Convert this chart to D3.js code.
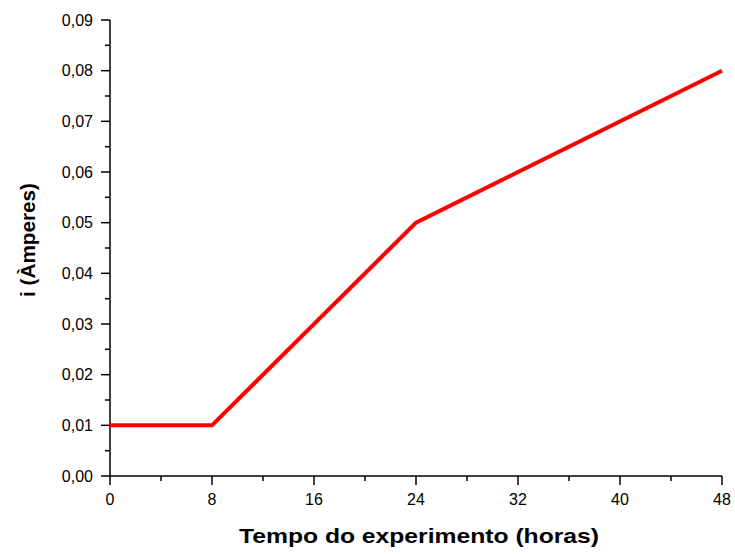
<!DOCTYPE html>
<html><head><meta charset="utf-8">
<script src="https://cdn.jsdelivr.net/npm/d3@7"></script>
<style>body{margin:0;background:#fff}svg{display:block}text{font-family:"Liberation Sans",Arial,sans-serif}</style>
</head><body><svg id="c" width="735" height="554"></svg>
<script>
const hours = [0, 8, 24, 48];
const current = [0.01, 0.01, 0.05, 0.08];
const xTicks = [0, 8, 16, 24, 32, 40, 48];
const yTicks = [0, 0.01, 0.02, 0.03, 0.04, 0.05, 0.06, 0.07, 0.08, 0.09];
const xTitle = "Tempo do experimento (horas)";
const yTitle = "i (Àmperes)";

const svg = d3.select("#c");
const x = d3.scaleLinear().domain([0, 48]).range([110, 722]);
const y = d3.scaleLinear().domain([0, 0.09]).range([476, 20]);
const fmt = d => d.toFixed(2).replace(".", ",");

const xMinor = d3.range(4, 48, 8);
const yMinor = d3.range(0.005, 0.09, 0.01);

// x axis
const gx = svg.append("g").attr("transform", "translate(0,476)");
gx.append("line").attr("x1", x(0)).attr("x2", x(48)).attr("stroke", "#000").attr("stroke-width", 1.5);
gx.selectAll(".mj").data(xTicks).join("line").attr("x1", d => x(d)).attr("x2", d => x(d)).attr("y1", 0).attr("y2", 9).attr("stroke", "#000").attr("stroke-width", 1.5);
gx.selectAll(".mn").data(xMinor).join("line").attr("class","mn").attr("x1", d => x(d)).attr("x2", d => x(d)).attr("y1", 0).attr("y2", 5).attr("stroke", "#000").attr("stroke-width", 1.5);
gx.selectAll("text").data(xTicks).join("text").attr("x", d => x(d)).attr("y", 29).attr("text-anchor", "middle").attr("font-size", 16).text(d => d);

// y axis
const gy = svg.append("g").attr("transform", "translate(110,0)");
gy.append("line").attr("y1", y(0)).attr("y2", y(0.09)).attr("stroke", "#000").attr("stroke-width", 1.5);
gy.selectAll(".mj").data(yTicks).join("line").attr("y1", d => y(d)).attr("y2", d => y(d)).attr("x1", 0).attr("x2", -9).attr("stroke", "#000").attr("stroke-width", 1.5);
gy.selectAll(".mn").data(yMinor).join("line").attr("class","mn").attr("y1", d => y(d)).attr("y2", d => y(d)).attr("x1", 0).attr("x2", -5).attr("stroke", "#000").attr("stroke-width", 1.5);
gy.selectAll("text").data(yTicks).join("text").attr("x", -17).attr("y", d => y(d) + 5.5).attr("text-anchor", "end").attr("font-size", 16).text(fmt);

// line
svg.append("path").datum(hours.map((h, i) => [h, current[i]]))
  .attr("d", d3.line().x(d => x(d[0])).y(d => y(d[1])))
  .attr("fill", "none").attr("stroke", "#ff0000").attr("stroke-width", 4);

// titles
svg.append("text").attr("x", 419).attr("y", 543).attr("text-anchor", "middle").attr("font-size", 21).attr("font-weight", "bold")
  .attr("textLength", 360).attr("lengthAdjust", "spacingAndGlyphs").text(xTitle);
svg.append("text").attr("transform", "translate(35,240) rotate(-90)").attr("text-anchor", "middle").attr("font-size", 21).attr("font-weight", "bold")
  .attr("textLength", 114).attr("lengthAdjust", "spacingAndGlyphs").text(yTitle);
</script></body></html>
